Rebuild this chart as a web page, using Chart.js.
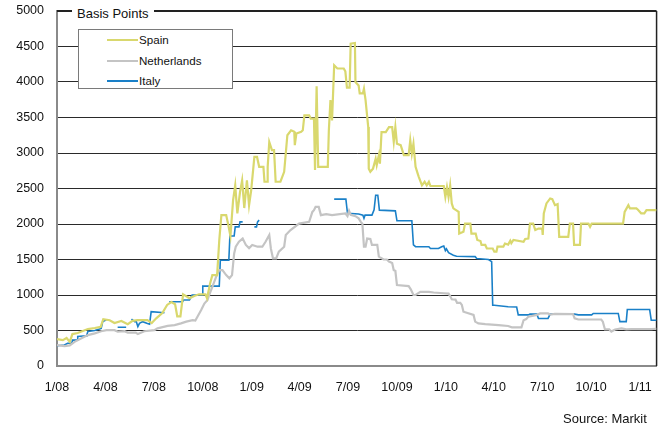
<!DOCTYPE html>
<html>
<head>
<meta charset="utf-8">
<script src="https://cdn.jsdelivr.net/npm/chart.js@4.4.1/dist/chart.umd.min.js"></script>
<style>
  body { margin: 0; background: #fff; font-family: "Liberation Sans", Arial, sans-serif; color: #111; }
  #wrap { position: relative; width: 666px; height: 431px; }
  #title { position: absolute; left: 72px; top: 6px; padding: 0 5px; background: #fff; font-size: 13px; line-height: 16px; }
  #legend { position: absolute; left: 78px; top: 29px; width: 153px; height: 58px; border: 1px solid #7a7a7a; background: #fff; }
  .row { position: absolute; left: 0; height: 16px; line-height: 16px; font-size: 11.6px; }
  .row i { position: absolute; left: 28px; top: 7px; width: 31px; height: 2px; }
  .row span { position: absolute; left: 60px; white-space: nowrap; }
  #source { position: absolute; left: 563px; top: 411px; font-size: 13px; line-height: 16px; }
</style>
</head>
<body>
<div id="wrap">
  <canvas id="chart" width="666" height="431"></canvas>
  <div id="title">Basis Points</div>
  <div id="legend">
    <div class="row" style="top:2px"><i style="background:#d9d86e"></i><span>Spain</span></div>
    <div class="row" style="top:22.5px"><i style="background:#c4c4c4"></i><span>Netherlands</span></div>
    <div class="row" style="top:43px"><i style="background:#1a80c8"></i><span>Italy</span></div>
  </div>
  <div id="source">Source: Markit</div>
</div>
<script>
// x = days since 1 Jan 2008, y = basis points
const tickDays = [0, 91, 182, 274, 366, 456, 547, 639, 731, 821, 912, 1004, 1096];
const tickLabels = ['1/08', '4/08', '7/08', '10/08', '1/09', '4/09', '7/09', '10/09', '1/10', '4/10', '7/10', '10/10', '1/11'];

const spain = [
    [0,380],[11,365],[18,395],[24,340],[29,450],[39,465],[58,520],[71,535],[82,550],[87,660],
    [99,645],[108,605],[121,635],[133,590],[142,635],[151,645],[170,645],[178,605],[187,675],[198,745],
    [207,860],[215,900],[222,870],[226,700],[232,700],[237,1010],[249,955],[258,985],[267,1010],[279,1010],
    [282,955],[288,1170],[292,1280],[301,1280],[305,1770],[309,2125],[318,2125],[322,1985],[326,1830],[331,2335],
    [335,2545],[339,2150],[344,2450],[348,2615],[352,2225],[357,2615],[361,2265],[365,2475],[371,2945],[376,2945],
    [380,2805],[388,2805],[390,2595],[395,2595],[396,2805],[399,3155],[404,3040],[408,3040],[411,2595],[420,2595],
    [427,2735],[433,3250],[440,3320],[446,3300],[447,3110],[450,3275],[459,3300],[462,3320],[465,3530],[474,3530],
    [477,3485],[483,3485],[485,2760],[488,3940],[491,2805],[509,2805],[511,3320],[514,3745],[517,3460],[521,4235],
    [527,4190],[539,4190],[542,4150],[545,3920],[550,3920],[552,4540],[560,4550],[561,4000],[567,3950],[569,3840],
    [575,3840],[577,3905],[580,3745],[585,3365],[586,2780],[589,2735],[594,2780],[599,2920],[601,2830],[605,2970],
    [607,2850],[610,3295],[618,3295],[624,3365],[630,3365],[633,3155],[636,3365],[639,3130],[646,3110],[652,2970],
    [661,2970],[664,3180],[667,2990],[670,3130],[674,2805],[678,2710],[680,2665],[686,2545],[691,2595],[695,2545],
    [699,2595],[702,2535],[727,2535],[730,2380],[733,2520],[736,2380],[739,2545],[742,2290],[745,2220],[755,2170],
    [756,1865],[764,1890],[767,2005],[777,2005],[779,1865],[787,1865],[790,1775],[796,1760],[798,1705],[805,1705],
    [808,1655],[819,1655],[822,1610],[826,1610],[828,1680],[839,1680],[842,1725],[848,1710],[852,1765],[854,1730],
    [858,1775],[877,1750],[880,1790],[886,1795],[889,2005],[895,2005],[899,1915],[905,1935],[912,1935],[913,1845],
    [915,2150],[920,2290],[927,2360],[931,2350],[936,2265],[941,2280],[944,1820],[961,1820],[964,2005],[970,2005],
    [972,1705],[983,1705],[985,2005],[999,2005],[1002,1960],[1005,2005],[1064,2005],[1067,2170],[1074,2265],[1077,2220],
    [1089,2220],[1092,2200],[1098,2150],[1104,2150],[1108,2195],[1127,2195]
];

const netherlands = [
    [0,295],[14,280],[24,290],[33,340],[46,390],[58,435],[71,460],[83,490],[93,505],[108,505],
    [114,485],[127,490],[133,470],[148,470],[152,450],[164,490],[183,505],[189,530],[208,565],[221,575],
    [233,600],[243,625],[255,645],[260,640],[264,695],[271,790],[277,880],[283,930],[286,1000],[292,1115],
    [299,1255],[305,1350],[311,1350],[318,1280],[324,1235],[329,1280],[333,1585],[336,1680],[342,1750],[349,1795],
    [355,1705],[361,1660],[367,1705],[377,1680],[386,1680],[392,1750],[399,1845],[402,1655],[406,1515],[412,1515],
    [417,1610],[427,1680],[430,1845],[439,1915],[455,2005],[474,2030],[480,2170],[483,2195],[486,2240],[492,2240],
    [496,2125],[506,2140],[517,2125],[542,2150],[546,2110],[549,2185],[552,2130],[561,2110],[567,2080],[571,2030],
    [574,2005],[577,1680],[580,1680],[583,1795],[589,1790],[592,1705],[602,1705],[605,1540],[614,1500],[620,1500],
    [624,1470],[630,1450],[633,1350],[636,1340],[639,1140],[661,1125],[665,1080],[670,1000],[674,1000],[683,1045],
    [699,1045],[708,1035],[727,1025],[736,1020],[739,985],[742,940],[749,935],[752,890],[758,890],[761,860],
    [764,765],[783,720],[786,625],[792,600],[805,590],[830,577],[848,563],[855,545],[873,545],[877,645],
    [882,660],[886,695],[902,720],[908,740],[923,740],[927,725],[936,735],[970,730],[973,670],[980,655],
    [1023,655],[1026,625],[1030,515],[1038,515],[1042,485],[1049,515],[1061,530],[1070,515],[1080,520],[1117,520],
    [1127,525]
];

// null = missing quotes, line breaks there
const italy = [
    [0,285],[14,295],[20,320],[28,320],[29,365],[38,365],[39,415],[55,425],[56,435],[58,485],
    [71,500],[80,520],[83,530],[86,625],[91,645],[93,645],[100,null],[114,545],[130,545],[135,null],
    [140,660],[146,625],[149,625],[152,555],[155,600],[161,625],[170,600],[174,590],[177,765],[202,750],
    [205,null],[211,905],[236,905],[238,930],[249,930],[254,1000],[273,1000],[274,1125],[305,1125],[307,1490],
    [323,1490],[325,1830],[333,1830],[335,1960],[342,1960],[344,2030],[349,2030],[352,null],[371,1960],[375,1960],
    [377,2030],[380,2055],[385,null],[521,2350],[543,2350],[546,2150],[567,2140],[575,2125],[577,2080],[579,2125],
    [592,2125],[596,2200],[599,2405],[603,2405],[606,2195],[636,2185],[639,2045],[667,2045],[670,1705],[674,1680],
    [699,1680],[702,1655],[717,1655],[723,1680],[727,1690],[730,1625],[732,1650],[736,1595],[745,1560],[751,1545],
    [786,1540],[789,1515],[811,1500],[817,1470],[819,855],[822,855],[848,835],[864,830],[867,720],[886,720],
    [889,730],[902,730],[905,670],[923,670],[927,730],[973,730],[980,720],[1005,720],[1008,740],[1055,740],
    [1058,625],[1070,625],[1072,795],[1114,795],[1117,645],[1127,645]
];

const toPoints = arr => arr.map(([x, y]) => ({ x: x, y: y }));

const frame = {
    id: 'frame',
    beforeDatasetsDraw(chart) {
        const { ctx, chartArea: a } = chart;
        ctx.save();
        ctx.strokeStyle = '#222';
        ctx.lineWidth = 2;
        ctx.beginPath();
        ctx.moveTo(a.left, a.top);
        ctx.lineTo(a.right, a.top);
        ctx.stroke();
        ctx.lineWidth = 1.5;
        ctx.beginPath();
        ctx.moveTo(a.right, a.top);
        ctx.lineTo(a.right, a.bottom);
        ctx.stroke();
        ctx.restore();
    }
};

const font = { family: "'Liberation Sans', Arial, sans-serif", size: 12.5 };

new Chart(document.getElementById('chart'), {
    type: 'line',
    data: {
        datasets: [
            { label: 'Spain', data: toPoints(spain), borderColor: '#d9d86e', borderWidth: 2.2 },
            { label: 'Netherlands', data: toPoints(netherlands), borderColor: '#c4c4c4', borderWidth: 2.2 },
            { label: 'Italy', data: toPoints(italy), borderColor: '#1a80c8', borderWidth: 1.6 }
        ]
    },
    options: {
        responsive: false,
        animation: false,
        devicePixelRatio: 1,
        spanGaps: false,
        layout: { padding: { left: 0, top: 0, right: 8, bottom: 0 } },
        elements: {
            point: { radius: 0 },
            line: { tension: 0, borderJoinStyle: 'miter', borderCapStyle: 'butt' }
        },
        plugins: { legend: { display: false }, tooltip: { enabled: false } },
        scales: {
            x: {
                type: 'linear',
                min: 0,
                max: 1127,
                afterFit: s => { s.height = 65; },
                afterBuildTicks: s => { s.ticks = tickDays.map(v => ({ value: v })); },
                grid: { display: false, drawTicks: false },
                border: { display: true, color: '#8a8a8a', width: 2 },
                ticks: {
                    autoSkip: false,
                    maxRotation: 0,
                    padding: 14,
                    color: '#111',
                    font: font,
                    callback: v => tickLabels[tickDays.indexOf(v)]
                }
            },
            y: {
                min: 0,
                max: 5000,
                afterFit: s => { s.width = 57; s.paddingTop = 11; s.paddingBottom = 0; },
                grid: {
                    drawTicks: false,
                    lineWidth: 1,
                    color: c => (c.tick.value === 0 || c.tick.value === 5000) ? 'rgba(0,0,0,0)' : '#2a2a2a'
                },
                border: { display: true, color: '#8a8a8a', width: 2 },
                ticks: { stepSize: 500, padding: 13, color: '#111', font: font, callback: v => String(v) }
            }
        }
    },
    plugins: [frame]
});
</script>
</body>
</html>
